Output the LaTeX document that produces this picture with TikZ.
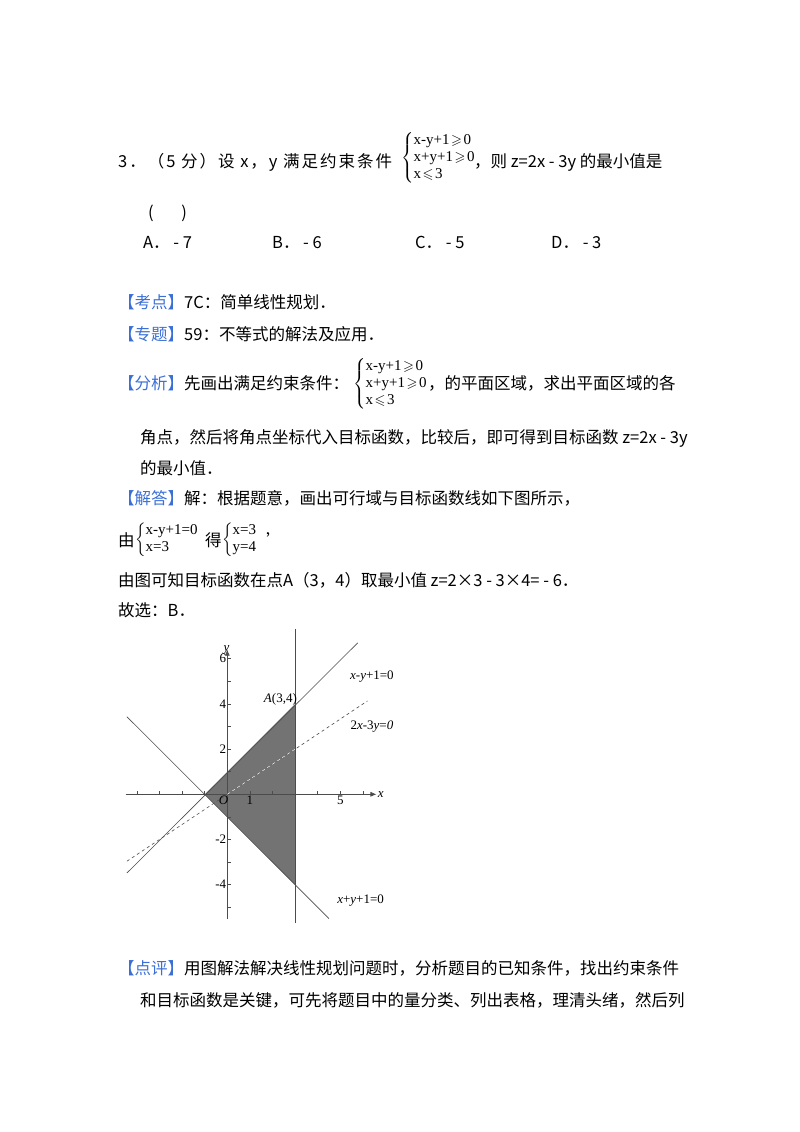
\documentclass[tikz,border=0pt]{standalone}
\usepackage{amssymb}
\usepackage{fontspec}
\setmainfont{Noto Sans CJK SC}
\newfontfamily\ser{Liberation Serif}
\usetikzlibrary{arrows.meta}
\definecolor{kb}{HTML}{3B6FD6}
\tikzset{t/.style={anchor=base west,inner sep=0pt,font=\fontsize{16.5}{19}\selectfont},
 ms/.style={anchor=west,inner sep=0pt,font=\fontsize{14}{16}\selectfont},
 gl/.style={font=\ser\fontsize{13}{15}\selectfont,inner sep=1pt},
 ln/.style={draw=black!70,line width=0.6pt}}
\newcommand{\kb}[1]{\textcolor{kb}{【#1】}}
\newcommand{\sv}[1]{\hbox{\ser\fontsize{15}{17}\selectfont #1}}
\newcommand{\sy}[1]{{\renewcommand{\arraystretch}{1.05}$\left\{\begin{array}{@{}l@{}}#1\end{array}\right.$}}
\begin{document}
\begin{tikzpicture}[x=1pt,y=1pt]
\useasboundingbox (0,0) rectangle (800,-1132);
\node[t,font=\fontsize{16.5}{19}\selectfont\addfontfeature{LetterSpace=12}] (l1) at (118,-167) {3．（5 分）设 x，y 满足约束条件};
\node[ms] (s1) at (401,-158) {\sy{\sv{x-y+1}\!\geqslant\!\sv{0}\\ \sv{x+y+1}\!\geqslant\!\sv{0}\\ \sv{x}\!\leqslant\!\sv{3}}};
\node[t] (l1b) at (474,-167) {，则 z=2x - 3y 的最小值是};
\node[t] (l2) at (148,-218) {(\quad\ \ \ )};
\node[t] (a) at (143,-248) {A． - 7};
\node[t] (b) at (272,-248) {B． - 6};
\node[t] (c) at (415,-248) {C． - 5};
\node[t] (d) at (551,-248) {D． - 3};
\node[t] (k1) at (118,-308) {\kb{考点}7C：简单线性规划．};
\node[t] (k2) at (118,-340) {\kb{专题}59：不等式的解法及应用．};
\node[t] (k3) at (118,-389) {\kb{分析}先画出满足约束条件：};
\node[ms] (s2) at (353,-384) {\sy{\sv{x-y+1}\!\geqslant\!\sv{0}\\ \sv{x+y+1}\!\geqslant\!\sv{0}\\ \sv{x}\!\leqslant\!\sv{3}}};
\node[t] (k3b) at (428,-389) {，的平面区域，求出平面区域的各};
\node[t] (k4) at (140,-443) {角点，然后将角点坐标代入目标函数，比较后，即可得到目标函数 z=2x - 3y};
\node[t] (k5) at (140,-474) {的最小值．};
\node[t] (k6) at (118,-504) {\kb{解答}解：根据题意，画出可行域与目标函数线如下图所示，};
\node[t] (k7) at (118,-546) {由};
\node[ms] (s3) at (135,-540) {\sy{\sv{x-y+1=0}\\ \sv{x=3}}};
\node[t] (k7b) at (205,-546) {得};
\node[ms] (s4) at (222,-540) {\sy{\sv{x=3}\\ \sv{y=4}}};
\node[t] (k7c) at (266,-546) {’};
\node[t] (k8) at (118,-586) {由图可知目标函数在点A（3，4）取最小值 z=2×3 - 3×4= - 6．};
\node[t] (k9) at (118,-616) {故选：B．};
\node[t] (k10) at (118,-974) {\kb{点评}用图解法解决线性规划问题时，分析题目的已知条件，找出约束条件};
\node[t] (k11) at (140,-1006) {和目标函数是关键，可先将题目中的量分类、列出表格，理清头绪，然后列};
% graph
\begin{scope}[shift={(227.3,-794.3)},x=22.6pt,y=22.6pt]
\fill[black!55] (-1,0) -- (3,4) -- (3,-4) -- cycle;
\draw[ln,-{Latex[length=6pt,width=5pt]}] (-4.5,0) -- (6.6,0) node[right,gl,font=\ser\itshape\fontsize{13}{15}\selectfont] (xl) {x};
\draw[ln,-{Latex[length=6pt,width=5pt]}] (0,-5.5) -- (0,6.4) node[above right,gl,font=\ser\itshape\fontsize{13}{15}\selectfont,xshift=-5pt,yshift=-6pt] (yl) {y};
\foreach \i in {-4,-3,-2,-1,1,2,3,4,5,6} \draw[ln] (\i,0) -- (\i,0.15);
\foreach \j in {-5,-4,-3,-2,-1,1,2,3,4,5,6} \draw[ln] (0,\j) -- (0.15,\j);
\foreach \j in {6,4,2,-2,-4} \node[gl,left] at (0,\j) {\j};
\node[gl,below] at (1,0) {1};
\node[gl,below] at (5,0) {5};
\node[gl,below left,font=\ser\itshape\fontsize{13}{15}\selectfont] at (0.1,0) {O};
\draw[ln] (3,7.3) -- (3,-5.7);
\draw[ln] (-4.44,-3.48) -- (5.77,6.7);
\draw[ln] (-4.44,3.43) -- (4.5,-5.5);
\draw[black!70,dashed,line width=0.6pt] (-4.44,-2.96) -- (6.2,4.13);
\draw[white,dashed,line width=0.5pt] (0,0) -- (3,2);
\node[gl,font=\ser\itshape\fontsize{13}{15}\selectfont] at (2.35,4.2) {A\upshape(3,4)};
\node[gl] at (6.4,5.2) {\itshape x\upshape-\itshape y\upshape+1=0};
\node[gl] at (6.4,3.0) {2\itshape x\upshape-3\itshape y\upshape=\itshape 0};
\node[gl] at (5.9,-4.7) {\itshape x\upshape+\itshape y\upshape+1=0};
\end{scope}
\end{tikzpicture}
\end{document}
